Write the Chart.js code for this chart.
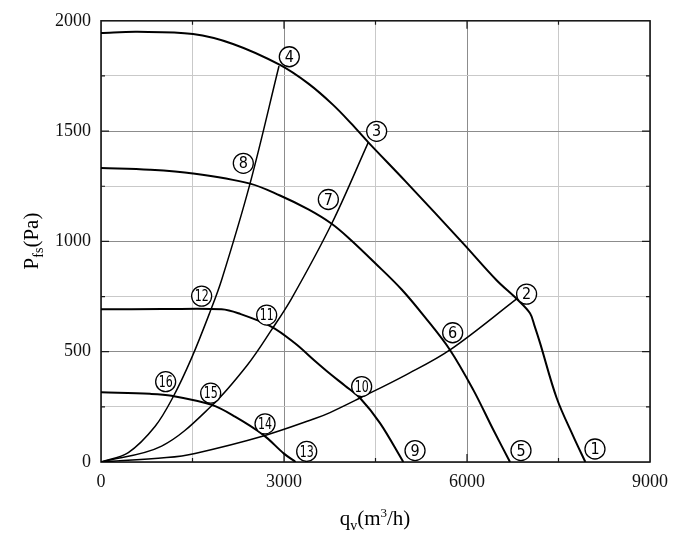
<!DOCTYPE html>
<html>
<head>
<meta charset="utf-8">
<script src="https://cdn.jsdelivr.net/npm/chart.js@4.4.1/dist/chart.umd.min.js"></script>
<style>html,body{margin:0;background:#fff}</style>
</head>
<body>
<canvas id="fanChart" width="700" height="543" style="width:700px;height:543px"></canvas>
<script>
// fan curves (q in m3/h, p in Pa)
const pumpAQ = [0, 600, 1508, 2164, 2934, 3400, 3800, 4100, 4382, 5000, 5940, 6485, 6813, 7033, 7110, 7197, 7470, 7743, 7940]
const pumpAP = [1945, 1950, 1940, 1895, 1800, 1715, 1620, 1535, 1449, 1270, 990, 824, 740, 674, 615, 540, 290, 116, 0]
const pumpBQ = [0, 800, 1508, 2443, 2934, 3400, 3781, 4082, 4500, 4929, 5300, 5721, 6103, 6431, 6705]
const pumpBP = [1333, 1325, 1308, 1262, 1208, 1145, 1080, 1010, 900, 782, 660, 508, 327, 146, 0]
const pumpCQ = [0, 1000, 1977, 2251, 2798, 3180, 3508, 3754, 4000, 4246, 4574, 4956]
const pumpCP = [692, 693, 692, 674, 613, 538, 458, 400, 346, 290, 176, 0]
const pumpDQ = [0, 803, 1158, 1814, 2197, 2661, 3000, 3190]
const pumpDP = [316, 309, 300, 259, 206, 123, 38, 0]

// system resistance curves
const sysHighQ = [0, 448, 885, 1186, 1486, 1787, 1977, 2443, 2918]
const sysHighP = [0, 43, 161, 297, 472, 680, 825, 1262, 1795]
const sysMidQ = [0, 994, 1814, 2400, 2798, 3126, 3781, 4382]
const sysMidP = [0, 72, 255, 440, 600, 742, 1080, 1449]
const sysLowQ = [0, 1075, 1541, 2661, 3508, 3754, 4246, 5000, 5721, 6841]
const sysLowP = [0, 20, 39, 118, 197, 224, 290, 395, 508, 745]

// circled point numbers
const markNo = [1, 2, 3, 4, 5, 6, 7, 8, 9, 10, 11, 12, 13, 14, 15, 16]
const markQ = [8098, 6977, 4519, 3087, 6885, 5765, 3727, 2333, 5148, 4273, 2716, 1650, 3372, 2689, 1798, 1060]
const markP = [59, 761, 1499, 1837, 52, 586, 1190, 1354, 52, 342, 666, 752, 48, 173, 312, 364]

// axis ticks
const xTicks = [0, 3000, 6000, 9000]
const yTicks = [0, 500, 1000, 1500, 2000]

function pts(qs, ps) { return qs.map((q, i) => ({ x: q, y: ps[i] })) }

function curve(qs, ps, w) {
  return {
    data: pts(qs, ps),
    showLine: true,
    borderColor: '#000',
    borderWidth: w,
    pointRadius: 0,
    tension: 0.35,
    order: 1
  }
}

const serif = '"Liberation Serif", "Times New Roman", serif'

const overlay = {
  id: 'overlay',
  beforeDatasetsDraw(chart) {
    const { ctx, chartArea: a, scales } = chart
    ctx.save()
    ctx.strokeStyle = '#1a1a1a'
    ctx.lineWidth = 1.2
    ctx.beginPath()
    for (let v = 1500; v < 9000; v += 1500) {
      const x = scales.x.getPixelForValue(v)
      const len = v % 3000 === 0 ? 8 : 4
      ctx.moveTo(x, a.bottom); ctx.lineTo(x, a.bottom - len)
      ctx.moveTo(x, a.top); ctx.lineTo(x, a.top + len)
    }
    for (let v = 250; v < 2000; v += 250) {
      const y = scales.y.getPixelForValue(v)
      const len = v % 500 === 0 ? 8 : 4
      ctx.moveTo(a.left, y); ctx.lineTo(a.left + len, y)
      ctx.moveTo(a.right, y); ctx.lineTo(a.right - len, y)
    }
    ctx.stroke()
    ctx.lineWidth = 1.6
    ctx.strokeRect(a.left, a.top, a.right - a.left, a.bottom - a.top)
    ctx.restore()
  },
  afterDatasetsDraw(chart) {
    const { ctx } = chart
    const meta = chart.getDatasetMeta(0)
    ctx.save()
    ctx.fillStyle = '#000'
    ctx.textAlign = 'center'
    ctx.textBaseline = 'middle'
    ctx.font = '16px "Liberation Sans Narrow", "DejaVu Sans Condensed", "Liberation Sans", sans-serif'
    meta.data.forEach((p, i) => {
      const s = String(markNo[i])
      const w = ctx.measureText(s).width
      const sx = w > 14 ? 14 / w : 1
      ctx.save()
      ctx.translate(p.x, p.y + 1)
      ctx.scale(sx, 1)
      ctx.fillText(s, 0, 0)
      ctx.restore()
    })
    ctx.restore()
  },
  afterDraw(chart) {
    const { ctx } = chart
    ctx.save()
    ctx.fillStyle = '#000'
    ctx.textBaseline = 'alphabetic'
    ctx.textAlign = 'left'
    // y title: P_fs(Pa)
    const big = '21px ' + serif, small = '14px ' + serif
    ctx.font = big
    const w1 = ctx.measureText('P').width, w3 = ctx.measureText('(Pa)').width
    ctx.font = small
    const w2 = ctx.measureText('fs').width
    let s = -(w1 + w2 + w3) / 2
    ctx.translate(38, 241)
    ctx.rotate(-Math.PI / 2)
    ctx.font = big; ctx.fillText('P', s, 0)
    ctx.font = small; ctx.fillText('fs', s + w1, 5)
    ctx.font = big; ctx.fillText('(Pa)', s + w1 + w2, 0)
    ctx.restore()

    // x title: q_v(m^3/h)
    ctx.save()
    ctx.fillStyle = '#000'
    ctx.textBaseline = 'alphabetic'
    ctx.textAlign = 'left'
    const parts = [['q', big, 0], ['v', small, 5], ['(m', big, 0], ['3', '13px ' + serif, -8], ['/h)', big, 0]]
    let tot = 0
    parts.forEach(p => { ctx.font = p[1]; tot += ctx.measureText(p[0]).width })
    let x = 375 - tot / 2
    parts.forEach(p => {
      ctx.font = p[1]
      ctx.fillText(p[0], x, 525 + p[2])
      x += ctx.measureText(p[0]).width
    })
    ctx.restore()
  }
}

const gridCol = (major) => (c) => (c.tick && major.includes(c.tick.value) ? '#8c8c8c' : '#c9c9c9')

new Chart(document.getElementById('fanChart'), {
  type: 'scatter',
  data: {
    datasets: [
      {
        data: pts(markQ, markP),
        pointRadius: 10,
        pointBackgroundColor: '#fff',
        pointBorderColor: '#000',
        pointBorderWidth: 1.3,
        showLine: false,
        order: 0
      },
      curve(pumpAQ, pumpAP, 2),
      curve(pumpBQ, pumpBP, 2),
      curve(pumpCQ, pumpCP, 2),
      curve(pumpDQ, pumpDP, 2),
      curve(sysHighQ, sysHighP, 1.5),
      curve(sysMidQ, sysMidP, 1.5),
      curve(sysLowQ, sysLowP, 1.5)
    ]
  },
  options: {
    responsive: false,
    animation: false,
    devicePixelRatio: 1,
    layout: { padding: { top: 20, right: 50, left: 0, bottom: 0 } },
    plugins: { legend: { display: false }, tooltip: { enabled: false } },
    scales: {
      x: {
        type: 'linear', min: 0, max: 9000,
        afterFit(sc) { sc.height = 81 },
        border: { display: false },
        grid: { drawTicks: false, color: gridCol(xTicks), lineWidth: 1 },
        ticks: {
          stepSize: 1500, autoSkip: false, maxRotation: 0, padding: 9,
          color: '#111', font: { family: serif, size: 18 },
          callback: v => (xTicks.includes(v) ? String(v) : '')
        }
      },
      y: {
        type: 'linear', min: 0, max: 2000,
        afterFit(sc) { sc.width = 101 },
        border: { display: false },
        grid: { drawTicks: false, color: gridCol(yTicks), lineWidth: 1 },
        ticks: {
          stepSize: 250, autoSkip: false, padding: 10,
          color: '#111', font: { family: serif, size: 18 },
          callback: v => (yTicks.includes(v) ? String(v) : '')
        }
      }
    }
  },
  plugins: [overlay]
})
</script>
</body>
</html>
